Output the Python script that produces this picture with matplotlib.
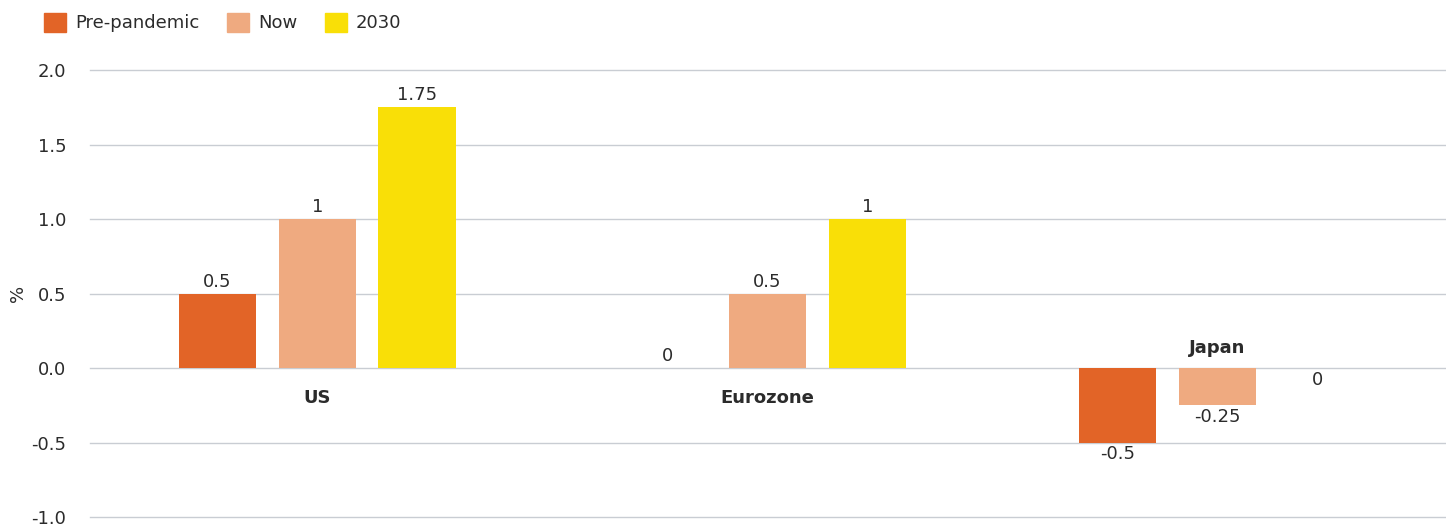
import numpy as np
import matplotlib
matplotlib.use("Agg")
import matplotlib.pyplot as plt
from matplotlib.patches import Patch

plt.rcParams['font.family'] = ['DejaVu Sans']

regions = ['US', 'Eurozone', 'Japan']
series_names = ['Pre-pandemic', 'Now', '2030']
pre_pandemic = [0.5, 0.0, -0.5]
now = [1.0, 0.5, -0.25]
y2030 = [1.75, 1.0, 0.0]
value_labels = [['0.5', '0', '-0.5'], ['1', '0.5', '-0.25'], ['1.75', '1', '0']]
colors = ['#E26427', '#EFAA80', '#F9DF07']
text_col = '#2b2b2b'

fig = plt.figure(figsize=(14.46, 5.27), dpi=100)
ax = fig.add_axes([90 / 1446, 10 / 527, 1356 / 1446, 447 / 527])

x = np.arange(len(regions))
width = 0.172
step = 0.222
all_series = [pre_pandemic, now, y2030]

for i, vals in enumerate(all_series):
    xs = x + (i - 1) * step
    ax.bar(xs, vals, width=width, color=colors[i], zorder=3)
    for j, v in enumerate(vals):
        # groups that go negative put their labels under the bars
        neg_group = min(all_series[k][j] for k in range(3)) < 0
        if v > 0 or (v == 0 and not neg_group):
            ax.annotate(value_labels[i][j], (xs[j], v), xytext=(0, 2),
                        textcoords='offset points', ha='center', va='bottom',
                        fontsize=13, color=text_col)
        else:
            ax.annotate(value_labels[i][j], (xs[j], v), xytext=(0, -2),
                        textcoords='offset points', ha='center', va='top',
                        fontsize=13, color=text_col)

# region names sit next to the zero line, away from the bars
for j, name in enumerate(regions):
    neg_group = min(s[j] for s in all_series) < 0
    if neg_group:
        ax.annotate(name, (x[j], 0), xytext=(0, 8), textcoords='offset points',
                    ha='center', va='bottom', fontsize=13, fontweight='bold',
                    color=text_col)
    else:
        ax.annotate(name, (x[j], 0), xytext=(0, -15), textcoords='offset points',
                    ha='center', va='top', fontsize=13, fontweight='bold',
                    color=text_col)

ax.set_xlim(-0.505, 2.508)
ax.set_ylim(-1.0, 2.0)
ax.set_yticks(np.arange(-1.0, 2.01, 0.5))
ax.set_yticklabels([f'{t:.1f}' for t in np.arange(-1.0, 2.01, 0.5)])
ax.set_xticks([])
ax.tick_params(axis='y', length=0, pad=17, labelsize=13, labelcolor=text_col)
ax.grid(axis='y', color='#C9CDD3', linewidth=1, zorder=0)
for gl in ax.get_ygridlines():
    gl.set_clip_on(False)
for s in ax.spines.values():
    s.set_visible(False)
ax.set_ylabel('%', fontsize=13, color=text_col, labelpad=3)

handles = [Patch(color=c) for c in colors]
fig.legend(handles, series_names, loc='upper left', bbox_to_anchor=(28 / 1446, 1.006),
           ncol=3, frameon=False, fontsize=13, handlelength=1.2, handleheight=1.2,
           handletextpad=0.5, columnspacing=1.55, labelcolor=text_col)

fig.savefig('out.png', dpi=100)
